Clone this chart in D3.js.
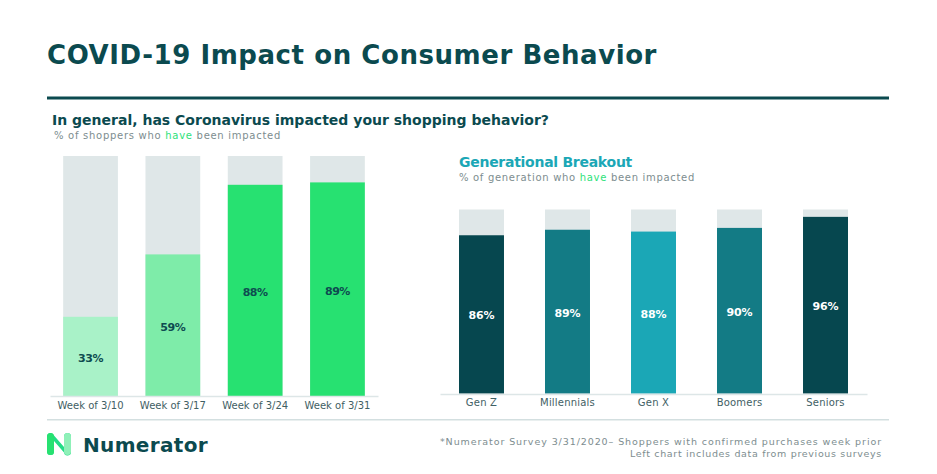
<!DOCTYPE html>
<html>
<head>
<meta charset="utf-8">
<script src="https://cdn.jsdelivr.net/npm/d3@7"></script>
<style>
  html, body { margin: 0; padding: 0; background: #fff; }
  svg { display: block; font-family: "DejaVu Sans", "Open Sans", sans-serif; }
</style>
</head>
<body>
<svg id="chart" width="937" height="474"></svg>
<script>
// ---- data ----
const weekCategories = ["Week of 3/10", "Week of 3/17", "Week of 3/24", "Week of 3/31"];
const weekValues = [33, 59, 88, 89];
const weekColors = ["#a9f2c8", "#7eeca9", "#27e171", "#27e171"];

const genCategories = ["Gen Z", "Millennials", "Gen X", "Boomers", "Seniors"];
const genValues = [86, 89, 88, 90, 96];
const genColors = ["#06474f", "#137b85", "#1ba7b6", "#137b85", "#06474f"];

const title = "COVID-19 Impact on Consumer Behavior";
const leftTitle = "In general, has Coronavirus impacted your shopping behavior?";
const rightTitle = "Generational Breakout";
const footnotes = ["*Numerator Survey 3/31/2020– Shoppers with confirmed purchases week prior",
                   "Left chart includes data from previous surveys"];

// ---- styles ----
const dark = "#0b4a4f";
const bgBar = "#dfe7e8";
const gray = "#7d8d8f";
const green = "#2ee27a";

const svg = d3.select("#chart");

// adjust spacing so the text spans the width it has in the reference
function fit(sel, w) {
  sel.each(function () {
    const cur = this.getComputedTextLength();
    const n = this.textContent.length;
    d3.select(this).attr("letter-spacing", ((w - cur) / n).toFixed(3));
  });
  return sel;
}

// header
svg.append("text").attr("x", 47).attr("y", 64)
  .attr("font-size", 26).attr("font-weight", 700).attr("fill", dark)
  .text(title).call(fit, 610);
svg.append("rect").attr("x", 47).attr("y", 96.5).attr("width", 842).attr("height", 3).attr("fill", "#0b4a4f");

svg.append("text").attr("x", 52).attr("y", 124.5)
  .attr("font-size", 14).attr("font-weight", 700).attr("fill", dark)
  .text(leftTitle).call(fit, 497);
const sub1 = svg.append("text").attr("x", 54).attr("y", 138.5)
  .attr("font-size", 10).attr("fill", gray);
sub1.append("tspan").text("% of shoppers who ");
sub1.append("tspan").attr("fill", green).text("have");
sub1.append("tspan").text(" been impacted");
sub1.call(fit, 227);

svg.append("text").attr("x", 459).attr("y", 166.5)
  .attr("font-size", 14).attr("font-weight", 700).attr("fill", "#1ba7b6")
  .text(rightTitle).call(fit, 173);
const sub2 = svg.append("text").attr("x", 459).attr("y", 181)
  .attr("font-size", 10).attr("fill", gray);
sub2.append("tspan").text("% of generation who ");
sub2.append("tspan").attr("fill", green).text("have");
sub2.append("tspan").text(" been impacted");
sub2.call(fit, 236);

// ---- left chart ----
const xL = d3.scaleBand().domain(weekCategories).range([50, 378]).paddingInner(0.335).paddingOuter(0.16);
const yL = d3.scaleLinear().domain([0, 100]).range([396, 156]);

const gL = svg.append("g");
gL.selectAll("rect.bg").data(weekCategories).join("rect").attr("class", "bg")
  .attr("x", d => xL(d)).attr("width", xL.bandwidth())
  .attr("y", yL(100)).attr("height", yL(0) - yL(100)).attr("fill", bgBar);
gL.selectAll("rect.val").data(weekValues).join("rect").attr("class", "val")
  .attr("x", (d, i) => xL(weekCategories[i])).attr("width", xL.bandwidth())
  .attr("y", d => yL(d)).attr("height", d => yL(0) - yL(d))
  .attr("fill", (d, i) => weekColors[i]);
gL.selectAll("text.val").data(weekValues).join("text").attr("class", "val")
  .attr("x", (d, i) => xL(weekCategories[i]) + xL.bandwidth() / 2)
  .attr("y", d => (yL(d) + yL(0)) / 2 + 5.5)
  .attr("text-anchor", "middle").attr("font-size", 11).attr("font-weight", 700)
  .attr("fill", "#0e4b50").text(d => d + "%").call(fit, 25);

const axL = svg.append("g").attr("transform", "translate(0,396)")
  .call(d3.axisBottom(xL).tickSize(0).tickPadding(6));
axL.select(".domain").attr("stroke", "#dde6e7").attr("stroke-width", 1.5);
axL.selectAll("text").attr("font-size", 10).attr("fill", "#3f6064")
  .attr("font-family", "'DejaVu Sans', sans-serif").call(fit, 66);

// ---- right chart ----
const xR = d3.scaleBand().domain(genCategories).range([440, 867]).paddingInner(0.477).paddingOuter(0.221);
const yR = d3.scaleLinear().domain([0, 100]).range([393.5, 209.5]);

const gR = svg.append("g");
gR.selectAll("rect.bg").data(genCategories).join("rect").attr("class", "bg")
  .attr("x", d => xR(d)).attr("width", xR.bandwidth())
  .attr("y", yR(100)).attr("height", yR(0) - yR(100)).attr("fill", bgBar);
gR.selectAll("rect.val").data(genValues).join("rect").attr("class", "val")
  .attr("x", (d, i) => xR(genCategories[i])).attr("width", xR.bandwidth())
  .attr("y", d => yR(d)).attr("height", d => yR(0) - yR(d))
  .attr("fill", (d, i) => genColors[i]);
gR.selectAll("text.val").data(genValues).join("text").attr("class", "val")
  .attr("x", (d, i) => xR(genCategories[i]) + xR.bandwidth() / 2)
  .attr("y", d => (yR(d) + yR(0)) / 2 + 5)
  .attr("text-anchor", "middle").attr("font-size", 11).attr("font-weight", 700)
  .attr("fill", "#ffffff").text(d => d + "%").call(fit, 26);

const axR = svg.append("g").attr("transform", "translate(0,394)")
  .call(d3.axisBottom(xR).tickSize(0).tickPadding(4.5));
axR.select(".domain").attr("stroke", "#dde6e7").attr("stroke-width", 1.5);
axR.selectAll("text").attr("font-size", 10).attr("fill", "#3f6064")
  .attr("font-family", "'DejaVu Sans', sans-serif").attr("letter-spacing", 0.2);

// ---- footer ----
svg.append("rect").attr("x", 47).attr("y", 419).attr("width", 842).attr("height", 1.5).attr("fill", "#d3dfe0");

// logo mark
const logo = svg.append("g").attr("transform", "translate(47,433)");
logo.append("path")
  .attr("d", "M3.5,0 A3.5,3.5 0 0 1 7,2.5 L17,14 L17,3.5 A3.5,3.5 0 0 1 24,3.5 L24,18.5 A3.5,3.5 0 0 1 17,19.5 L7,8 L7,18.5 A3.5,3.5 0 0 1 0,18.5 L0,3.5 A3.5,3.5 0 0 1 3.5,0 Z")
  .attr("fill", "#22dc86");
logo.append("path")
  .attr("d", "M0,3.5 A3.5,3.5 0 0 1 7,3.5 L7,18.5 A3.5,3.5 0 0 1 0,18.5 Z")
  .attr("fill", "#27e171");
logo.append("path")
  .attr("d", "M17,3.5 A3.5,3.5 0 0 1 24,3.5 L24,18.5 A3.5,3.5 0 0 1 17,18.5 Z")
  .attr("fill", "#8ff0b8");

svg.append("text").attr("x", 83).attr("y", 452)
  .attr("font-size", 20).attr("font-weight", 700).attr("fill", dark)
  .text("Numerator").call(fit, 125);

const footWidths = [442, 252];
svg.selectAll("text.foot").data(footnotes).join("text").attr("class", "foot")
  .attr("x", 882).attr("y", (d, i) => 445 + i * 12)
  .attr("text-anchor", "end").attr("font-size", 9.5).attr("fill", gray)
  .text(d => d)
  .each(function (d, i) { d3.select(this).call(fit, footWidths[i]); });
</script>
</body>
</html>
